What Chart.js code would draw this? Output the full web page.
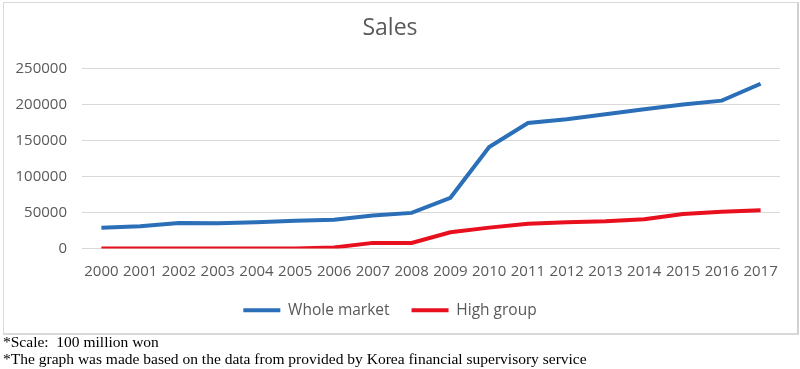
<!DOCTYPE html>
<html>
<head>
<meta charset="utf-8">
<script src="https://cdn.jsdelivr.net/npm/chart.js@4.4.1/dist/chart.umd.min.js"></script>
<style>
  body { margin: 0; background: #fff; width: 800px; height: 369px; overflow: hidden; position: relative; }
  #moldura { position: absolute; left: 3px; top: 2px; width: 793px; height: 330px; border: 1px solid #d9d9d9; border-right: 2px solid #d0d0d0; border-bottom: 2px solid #d9d9d9; }
  #caixa { position: absolute; left: 0; top: 0; width: 800px; height: 336px; }
  .nota { position: absolute; left: 3px; font-family: "Liberation Serif", serif; font-size: 15.5px; color: #000; white-space: pre; }
</style>
</head>
<body>
<div id="moldura"></div>
<div id="caixa"><canvas id="graficoVendas"></canvas></div>
<div class="nota" style="top:333px">*Scale:  100 million won</div>
<div class="nota" style="top:350px">*The graph was made based on the data from provided by Korea financial supervisory service</div>
<script>
// Dados do gráfico
var anos = ['2000', '2001', '2002', '2003', '2004', '2005', '2006', '2007', '2008',
            '2009', '2010', '2011', '2012', '2013', '2014', '2015', '2016', '2017'];
var mercadoTotal = [29000, 31000, 35500, 35000, 36500, 38500, 40000, 46000, 49500,
                    70500, 141000, 174500, 179500, 186500, 193500, 200000, 205500, 229000];
var grupoAlto = [0, 0, 0, 0, 0, 0, 1500, 7800, 7800,
                 22500, 29000, 34300, 36600, 38000, 40800, 48000, 51000, 53300];
var ticksY = [0, 50000, 100000, 150000, 200000, 250000];

var corTexto = '#595959';
var fonte = "'Open Sans', 'Noto Sans', sans-serif";

var ctx = document.getElementById('graficoVendas').getContext('2d');

var graficoVendas = new Chart(ctx, {
    type: 'line',
    data: {
        labels: anos,
        datasets: [{
            label: 'Whole market',
            data: mercadoTotal,
            borderColor: '#2a6fb8',
            backgroundColor: '#2a6fb8',
            borderWidth: 4,
            pointRadius: 0,
            tension: 0
        }, {
            label: 'High group',
            data: grupoAlto,
            borderColor: '#e8101e',
            backgroundColor: '#e8101e',
            borderWidth: 4,
            pointRadius: 0,
            tension: 0
        }]
    },
    options: {
        responsive: true,
        maintainAspectRatio: false,
        animation: false,
        layout: { padding: { left: 0, right: 20, top: 0, bottom: 8 } },
        plugins: {
            title: {
                display: true,
                text: 'Sales',
                color: corTexto,
                font: { family: fonte, size: 23, weight: 'normal' },
                padding: { top: 15, bottom: 26 }
            },
            legend: {
                position: 'bottom',
                labels: {
                    usePointStyle: true,
                    pointStyle: 'line',
                    pointStyleWidth: 37,
                    color: corTexto,
                    font: { family: fonte, size: 15.5 },
                    padding: 22
                }
            },
            tooltip: { enabled: false }
        },
        scales: {
            x: {
                offset: true,
                grid: { display: false, drawTicks: false },
                border: { display: false },
                ticks: { color: corTexto, font: { family: fonte, size: 15 }, padding: 14, maxRotation: 0, autoSkip: false },
                afterFit: function(escala) { escala.height = 32; }
            },
            y: {
                min: 0,
                max: 250000,
                afterBuildTicks: function(escala) {
                    escala.ticks = ticksY.map(function(v) { return { value: v }; });
                },
                grid: { color: '#d9d9d9', lineWidth: 1, drawTicks: false },
                border: { display: false },
                ticks: {
                    color: corTexto,
                    font: { family: fonte, size: 15 },
                    padding: 15,
                    callback: function(valor) { return String(valor); }
                },
                afterFit: function(escala) { escala.width = 82; }
            }
        }
    }
});
</script>
</body>
</html>
